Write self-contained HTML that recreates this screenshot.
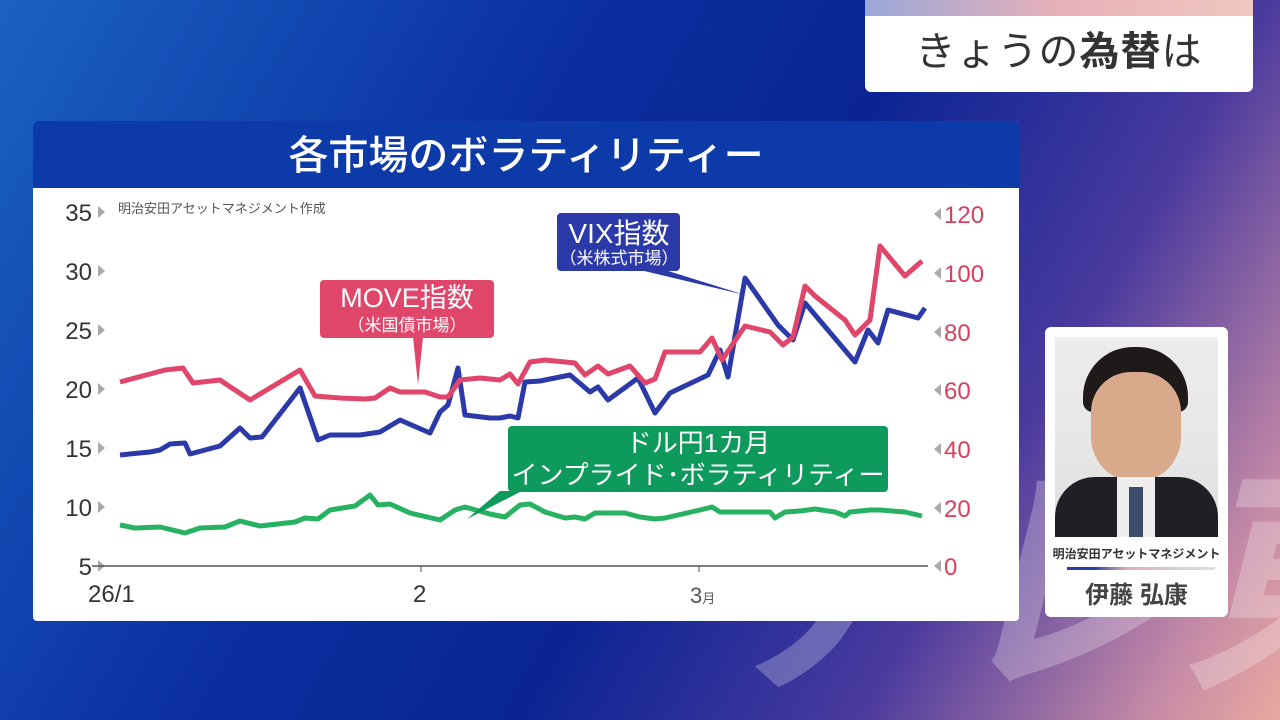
<!DOCTYPE html>
<html style="width:1280px;height:720px;overflow:hidden"><head><meta charset="utf-8"><style>
body{margin:0;width:1280px;height:720px;overflow:hidden;position:relative;font-family:"Liberation Sans","Noto Sans CJK JP",sans-serif;}
.bg{position:absolute;inset:0;background:linear-gradient(120deg,#1a62c4 0%,#0b2f9f 35%,#0a2494 55%,#4a3a9e 75%,#c58aa6 92%,#e8a9a0 100%);}
</style></head><body>
<div class="bg"></div>
<div style="position:absolute;left:700px;top:455px;font-size:250px;line-height:260px;font-weight:bold;color:rgba(255,255,255,0.25);font-style:italic;letter-spacing:-10px;white-space:nowrap">テレ東</div>
<div style="position:absolute;left:865px;top:0;width:388px;height:92px;background:#fff;border-radius:0 0 6px 6px;">
<div style="height:16px;background:linear-gradient(90deg,#9aa8d8,#e8b0b8,#f0c8c0)"></div>
<div style="text-align:center;font-size:40px;color:#333;line-height:72px;letter-spacing:1px">きょうの<b>為替</b>は</div></div>
<div style="position:absolute;left:33px;top:121px;width:986px;height:500px;background:#fff;border-radius:4px;overflow:hidden">
<div style="height:67px;background:#0c3aa8;color:#fff;text-align:center;font-size:40px;font-weight:500;line-height:70px">各市場のボラティリティー</div>
</div>
<svg style="position:absolute;left:0;top:0" width="1280" height="720">
<g font-size="24" fill="#333" text-anchor="end">
<text x="92" y="221">35</text><text x="92" y="280">30</text><text x="92" y="339">25</text><text x="92" y="398">20</text><text x="92" y="457">15</text><text x="92" y="516">10</text><text x="92" y="575">5</text></g>
<g fill="#aaa"><path d="M98,206l7,6l-7,6z M98,265l7,6l-7,6z M98,324l7,6l-7,6z M98,383l7,6l-7,6z M98,442l7,6l-7,6z M98,501l7,6l-7,6z M98,560l7,6l-7,6z"/>
<path d="M941,208l-7,6l7,6z M941,267l-7,6l7,6z M941,326l-7,6l7,6z M941,384l-7,6l7,6z M941,443l-7,6l7,6z M941,502l-7,6l7,6z M941,560l-7,6l7,6z"/></g>
<g font-size="24" fill="#d7405e"><text x="944" y="223">120</text><text x="944" y="282">100</text><text x="944" y="341">80</text><text x="944" y="399">60</text><text x="944" y="458">40</text><text x="944" y="517">20</text><text x="944" y="575">0</text></g>
<text x="118" y="213" font-size="13" fill="#555">明治安田アセットマネジメント作成</text>
<line x1="92" y1="566" x2="928" y2="566" stroke="#555" stroke-width="1.5"/>
<line x1="421" y1="566" x2="421" y2="572" stroke="#555"/><line x1="699" y1="566" x2="699" y2="572" stroke="#555"/>
<text x="88" y="602" font-size="24" fill="#333">26/1</text><text x="413" y="602" font-size="24" fill="#333">2</text>
<text x="690" y="603" font-size="22" fill="#555">3<tspan font-size="13">月</tspan></text>
<g fill="none" stroke-width="5" stroke-linejoin="round">
<polyline stroke="#27b262" points="120,525 135,528 160,527 185,533 200,528 225,527 240,521 260,526 295,522 305,518 318,519 330,510 355,506 370,495 378,505 390,504 410,513 440,520 455,510 465,507 490,514 505,517 520,505 530,504 545,512 565,518 575,517 585,519 595,513 625,513 640,517 655,519 665,518 700,510 712,507 720,512 770,512 775,518 785,512 800,511 815,509 835,512 845,516 850,512 870,510 880,510 905,512 922,516"/>
<polyline stroke="#2b3aa8" points="120,455 150,452 160,450 170,444 185,443 190,454 220,446 240,428 250,438 262,437 300,388 318,440 330,435 360,435 380,432 400,420 430,433 440,412 448,405 458,368 465,415 490,418 500,418 510,416 518,418 525,382 540,381 570,375 590,392 598,387 608,400 638,378 655,413 670,393 708,375 720,350 728,377 745,278 778,325 793,340 805,303 855,362 868,330 878,343 888,310 918,318 925,308"/>
<polyline stroke="#e0456a" points="120,382 150,374 165,370 183,368 193,383 220,380 250,400 300,370 315,396 340,398 365,399 375,398 390,388 400,392 425,392 440,397 448,397 460,380 480,378 500,380 510,374 518,384 530,362 545,360 575,363 585,375 598,366 608,374 630,366 645,383 655,379 665,352 700,352 712,338 722,360 745,326 770,332 783,345 793,337 805,286 815,296 845,320 855,335 870,320 880,246 905,276 922,261"/>
</g>
<rect x="320" y="280" width="174" height="58" rx="4" fill="#e0456a"/><path d="M413,337l10,0l-5,48z" fill="#e0456a"/>
<text x="407" y="307" font-size="27" fill="#fff" text-anchor="middle">MOVE指数</text><text x="407" y="331" font-size="17" fill="#fff" text-anchor="middle">（米国債市場）</text>
<rect x="557" y="213" width="123" height="58" rx="4" fill="#2b3aa8"/><path d="M640,270l25,0l80,25z" fill="#2b3aa8"/>
<text x="619" y="243" font-size="28" fill="#fff" text-anchor="middle">VIX指数</text><text x="619" y="264" font-size="17" fill="#fff" text-anchor="middle">（米株式市場）</text>
<rect x="508" y="426" width="380" height="66" rx="4" fill="#0e9a5c"/><path d="M500,491l22,0l-55,28z" fill="#0e9a5c"/>
<text x="698" y="452" font-size="26" fill="#fff" text-anchor="middle">ドル円1カ月</text><text x="698" y="484" font-size="26" fill="#fff" text-anchor="middle">インプライド･ボラティリティー</text>
</svg>
<div style="position:absolute;left:1045px;top:327px;width:183px;height:290px;background:#fff;border-radius:6px">
<div style="position:absolute;left:10px;top:10px;width:163px;height:200px;background:linear-gradient(#ececec 0%,#e6e6e6 60%,#ddd 100%);overflow:hidden">
<div style="position:absolute;left:28px;top:10px;width:105px;height:65px;background:#1e1a1a;border-radius:50px 50px 10px 10px"></div>
<div style="position:absolute;left:36px;top:35px;width:90px;height:110px;background:#d9a98c;border-radius:40px 40px 45px 45px"></div>
<div style="position:absolute;left:0;top:140px;width:163px;height:70px;background:#1f1f26;border-radius:40px 40px 0 0"></div>
<div style="position:absolute;left:62px;top:140px;width:38px;height:60px;background:#eee"></div>
<div style="position:absolute;left:74px;top:150px;width:14px;height:50px;background:#3c4c6c"></div>
</div>
<div style="position:absolute;left:0;top:218px;width:183px;text-align:center;font-size:12px;font-weight:bold;color:#333">明治安田アセットマネジメント</div>
<div style="position:absolute;left:22px;top:240px;width:148px;height:3px;background:linear-gradient(90deg,#2b3aa8 18%,#d8b0c0 40%,#dde)"></div>
<div style="position:absolute;left:0;top:248px;width:183px;text-align:center;font-size:24px;font-weight:bold;color:#444">伊藤 弘康</div>
</div>
</body></html>
